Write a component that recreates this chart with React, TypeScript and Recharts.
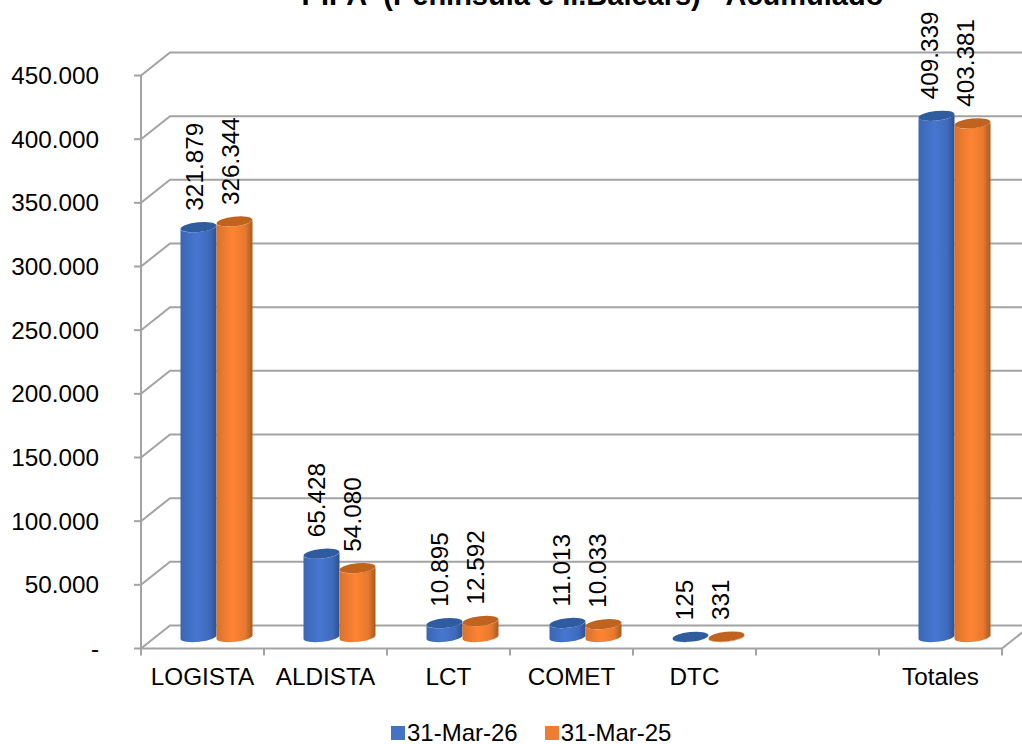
import React from 'react';
import { BarChart, Bar, XAxis, YAxis, CartesianGrid, Legend, LabelList } from 'recharts';

const categories = ['LOGISTA', 'ALDISTA', 'LCT', 'COMET', 'DTC', '', 'Totales'];
const marzo26 = [321879, 65428, 10895, 11013, 125, null, 409339];
const marzo25 = [326344, 54080, 12592, 10033, 331, null, 403381];
const yTicks = [0, 50000, 100000, 150000, 200000, 250000, 300000, 350000, 400000, 450000];

const data = categories.map((name, i) => ({
    name,
    marzo26: marzo26[i],
    marzo25: marzo25[i],
}));

const FONT = '"Liberation Sans", Arial, sans-serif';
const GRID = '#a3a3a3';
const FONT_SIZE = 24.3;

// fake 3d: the back wall sits up and to the right of the front plane
const DEPTH_X = 29;
const DEPTH_Y = 23;
const BAR_DX = 13.5;
const BAR_DY = 11.5;
const RY = 4.8;
const TILT_DY = 2;

const fmt = (v: number) => (v === 0 ? '-' : v.toLocaleString('de-DE'));

const cylinder = (body: string, cap: string) => (props: any) => {
    const { x, y, width, height } = props;
    if (y == null || (!height && height !== 0)) return null;
    const left = x + BAR_DX;
    const right = left + width;
    const rx = width / 2;
    const top = y - BAR_DY;
    const base = top + height;
    const d = `M${left},${top + TILT_DY} L${left},${base + TILT_DY}
      A${rx},${RY} -6 0 0 ${right},${base - TILT_DY}
      L${right},${top - TILT_DY}
      A${rx},${RY} -6 0 1 ${left},${top + TILT_DY} Z`;
    return (
        <g>
            <path d={d} fill={`url(#${body})`} />
            <ellipse
                cx={left + rx}
                cy={top}
                rx={rx}
                ry={RY}
                fill={cap}
                transform={`rotate(-6 ${left + rx} ${top})`}
            />
        </g>
    );
};

const rotatedLabel = (props: any) => {
    const { x, y, width, value } = props;
    if (value == null) return null;
    const cx = x + BAR_DX + width / 2;
    const px = cx - 3.5 - (cx - 197) * 0.0045 + 8;
    const py = y - BAR_DY - 16.5;
    return (
        <text
            x={px}
            y={py}
            transform={`rotate(-90 ${px} ${py})`}
            fontSize={FONT_SIZE}
            fontFamily={FONT}
            fill="#000"
        >
            {fmt(value)}
        </text>
    );
};

const gridLine = (props: any) => {
    const { x1, x2, y1, key } = props;
    return (
        <polyline
            key={key}
            points={`${x1},${y1} ${x1 + DEPTH_X},${y1 - DEPTH_Y} ${x2 + DEPTH_X},${y1 - DEPTH_Y}`}
            fill="none"
            stroke={GRID}
            strokeWidth={2}
        />
    );
};

const tickMark = (props: any) => {
    const { x1, y2, key } = props;
    return <line key={key} x1={x1} x2={x1} y1={y2} y2={y2 + 7} stroke={GRID} strokeWidth={2} />;
};

const bandEdges = ({ offset }: any) =>
    [...categories.map((_, i) => i), categories.length].map(
        (i) => offset.left + (i * offset.width) / categories.length
    );

const legendContent = ({ payload }: any) => (
    <div style={{ display: 'flex', fontSize: 24, fontFamily: FONT, color: '#000', lineHeight: '20px' }}>
        {(payload || []).map((item: any) => (
            <div key={item.value} style={{ display: 'flex', alignItems: 'center', marginRight: 27 }}>
                <span
                    style={{ display: 'block', width: 14, height: 14, background: item.color, marginRight: 2, marginTop: -1 }}
                />
                <span>{item.value}</span>
            </div>
        ))}
    </div>
);

export default function App() {
    return (
        <div style={{ position: 'absolute', left: 0, top: 0, width: 1022, height: 744, overflow: 'hidden' }}>
            <BarChart
                width={1022}
                height={744}
                data={data}
                margin={{ top: 75.5, right: 20, bottom: 0, left: 0 }}
                barSize={36}
                barGap={0}
                style={{ fontFamily: FONT }}
            >
                <defs>
                    <linearGradient id="blueBody" x1="0" x2="1" y1="0" y2="0">
                        <stop offset="0" stopColor="#3a66b4" />
                        <stop offset="0.45" stopColor="#4676d0" />
                        <stop offset="0.8" stopColor="#3f6bbd" />
                        <stop offset="1" stopColor="#2d5190" />
                    </linearGradient>
                    <linearGradient id="orangeBody" x1="0" x2="1" y1="0" y2="0">
                        <stop offset="0" stopColor="#d9722b" />
                        <stop offset="0.45" stopColor="#ff8433" />
                        <stop offset="0.8" stopColor="#e5792f" />
                        <stop offset="1" stopColor="#a8591f" />
                    </linearGradient>
                </defs>
                <text x={592.5} y={5} textAnchor="middle" fontSize={29} fontWeight="bold" fontFamily={FONT} fill="#000">
                    {'PIPA\u00a0 (Península e Il.Balears) - Acumulado'}
                </text>
                <CartesianGrid
                    horizontal={gridLine}
                    vertical={tickMark}
                    verticalCoordinatesGenerator={bandEdges}
                />
                <line x1={1002} y1={648.5} x2={1031} y2={625.5} stroke={GRID} strokeWidth={2} />
                <XAxis
                    dataKey="name"
                    interval={0}
                    height={95.5}
                    tickLine={false}
                    tickMargin={13}
                    axisLine={{ stroke: GRID, strokeWidth: 2 }}
                    tick={{ fontSize: FONT_SIZE, fill: '#000' }}
                />
                <YAxis
                    width={141}
                    domain={[0, 450000]}
                    ticks={yTicks}
                    tickFormatter={fmt}
                    tickSize={7}
                    tickMargin={35}
                    axisLine={{ stroke: GRID, strokeWidth: 2 }}
                    tickLine={{ stroke: GRID, strokeWidth: 2 }}
                    tick={{ fontSize: FONT_SIZE, fill: '#000' }}
                />
                <Legend
                    layout="horizontal"
                    verticalAlign="middle"
                    align="center"
                    itemSorter={null}
                    content={legendContent}
                    wrapperStyle={{ top: 723, left: 391, width: 340 }}
                />
                <Bar
                    dataKey="marzo26"
                    name="31-Mar-26"
                    fill="#4472c4"
                    isAnimationActive={false}
                    shape={cylinder('blueBody', '#2f5b9f')}
                >
                    <LabelList dataKey="marzo26" content={rotatedLabel} />
                </Bar>
                <Bar
                    dataKey="marzo25"
                    name="31-Mar-25"
                    fill="#ed7d31"
                    isAnimationActive={false}
                    shape={cylinder('orangeBody', '#c0631f')}
                >
                    <LabelList dataKey="marzo25" content={rotatedLabel} />
                </Bar>
            </BarChart>
        </div>
    );
}
